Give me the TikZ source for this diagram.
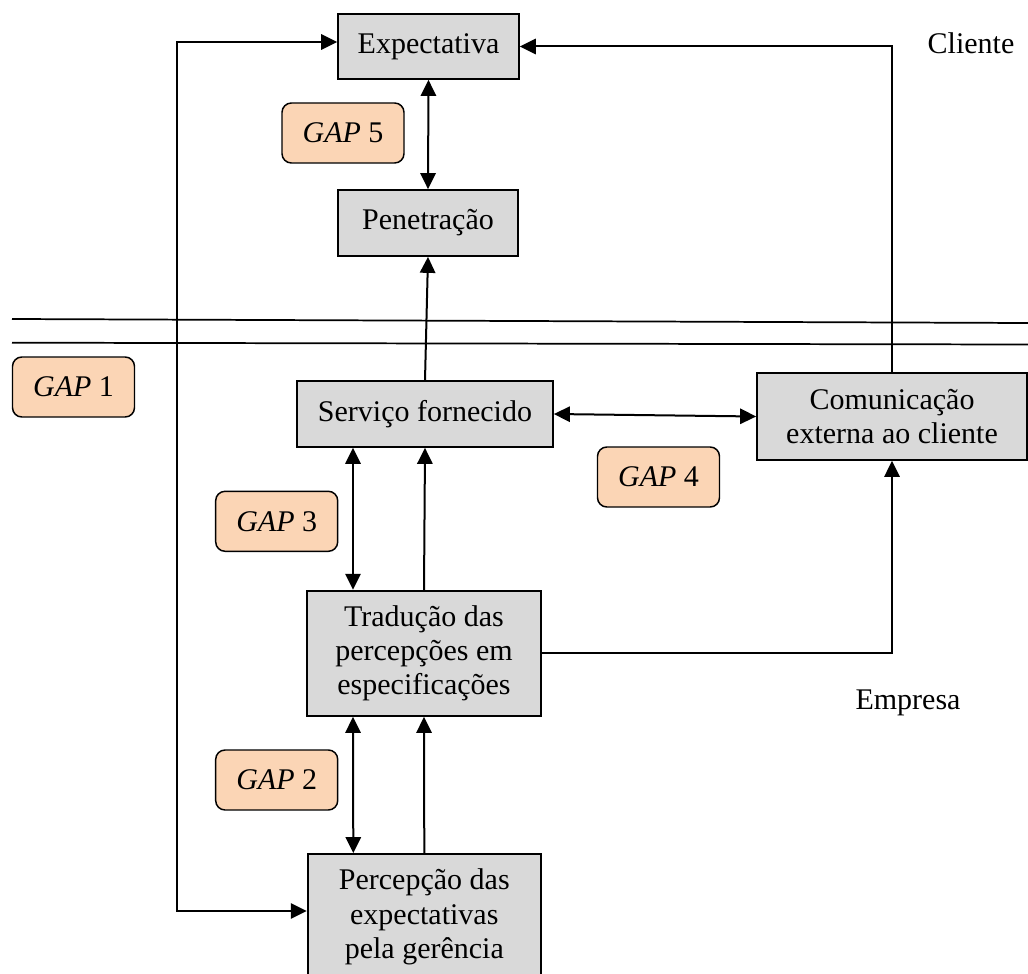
\documentclass[tikz,border=0pt]{standalone}
\usepackage{fontspec}
\setmainfont{Liberation Serif}
\usetikzlibrary{arrows.meta,calc}
\definecolor{boxgray}{HTML}{D9D9D9}
\definecolor{gappeach}{HTML}{FBD5B5}
\begin{document}
\begin{tikzpicture}[x=0.75pt,y=-0.75pt,
  every node/.style={font=\fontsize{22.5}{25.8}\selectfont},
  stage/.style={draw=black,line width=1.3pt,fill=boxgray,align=center,inner sep=0pt},
  gapbox/.style={draw=black,line width=1.1pt,fill=gappeach,rounded corners=7pt,
    minimum width=91.5pt,minimum height=45pt,inner sep=0pt},
  tip/.tip={Triangle[length=12pt,width=11.5pt]},
  arr/.style={line width=1.5pt,-tip},
  darr/.style={line width=1.5pt,tip-tip},
  divider/.style={line width=1.3pt}]
\useasboundingbox (0,0) rectangle (1028,974);

% customer / company divide
\draw[divider] (12,319) -- (1028,323);
\draw[divider] (12,342.7) -- (1028,344.5);

% stages of the model
\node[stage,minimum width=135.75pt,minimum height=48.75pt] (exp) at (428.5,46.5) {Expectativa};
\node[stage,minimum width=135pt,minimum height=49.5pt] (pen) at (428,223) {Penetração};
\node[stage,minimum width=192pt,minimum height=49.5pt] (serv) at (425,414) {Serviço fornecido};
\node[stage,minimum width=202.5pt,minimum height=65.25pt] (com) at (892,416.5) {Comunicação\\externa ao cliente};
\node[stage,minimum width=175.5pt,minimum height=94pt] (trad) at (424,653.3) {Tradução das\\percepções em\\especificações};
\node[stage,minimum width=175pt,minimum height=94.5pt] (perc) at (424.3,917) {Percepção das\\expectativas\\pela gerência};

% gaps
\node[gapbox] (g5) at (343,133) {\textit{GAP} 5};
\node[gapbox] (g1) at (73.5,387) {\textit{GAP} 1};
\node[gapbox] (g4) at (658.5,477) {\textit{GAP} 4};
\node[gapbox] (g3) at (276.7,521.3) {\textit{GAP} 3};
\node[gapbox] (g2) at (276.7,780) {\textit{GAP} 2};

% side labels
\node (cli) at (971,43) {Cliente};
\node (emp) at (908,703) {Empresa};

% connectors
\coordinate (lc) at (177,42);
\draw[darr] (exp.south) -- (pen.north);
\draw[arr] (serv.north) -- (pen.south);
\draw[darr] (serv.east) -- (com.west);
\draw[arr] (com.north) |- (exp.east);
\draw[arr] (trad.east) -| (com.south);
\draw[darr] ($(serv.south)+(-72,0)$) -- ($(trad.north)+(-71,0)$);
\draw[arr] (trad.north) -- (serv.south);
\draw[darr] ($(trad.south)+(-71,0)$) -- ($(perc.north)+(-71,0)$);
\draw[arr] (perc.north) -- (trad.south);
\draw[darr] ($(exp.west)+(0,-4.5)$) -- (lc) |- ($(perc.west)+(0,-6)$);
\end{tikzpicture}
\end{document}
